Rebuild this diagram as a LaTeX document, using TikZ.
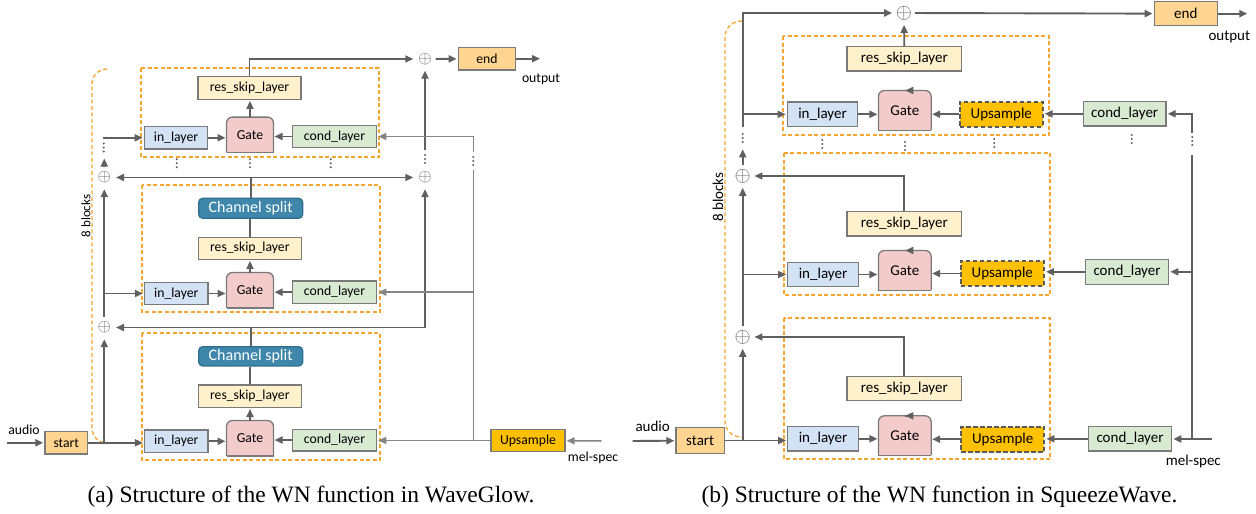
\documentclass[tikz,border=0pt]{standalone}
\usepackage{fontspec}
\setmainfont{Carlito}
\newfontfamily\capfont{Liberation Serif}
\usetikzlibrary{arrows.meta,backgrounds}
\definecolor{lc}{HTML}{606060}
\definecolor{mlc}{HTML}{858585}
\definecolor{bc}{HTML}{7A7A7A}
\definecolor{inc}{HTML}{D3E2F4}
\definecolor{gatec}{HTML}{F3CBCB}
\definecolor{condc}{HTML}{D8EAD2}
\definecolor{resc}{HTML}{FFF1CC}
\definecolor{stc}{HTML}{FFD591}
\definecolor{upc}{HTML}{FFC000}
\definecolor{csc}{HTML}{3F86AB}
\definecolor{csd}{HTML}{2F6E8E}
\definecolor{orc}{HTML}{F5A530}
\definecolor{upd}{HTML}{595959}
\begin{document}
\begin{tikzpicture}[x=1pt,y=-1pt,
  ln/.style={draw=lc, line width=1.9pt},
  mln/.style={draw=mlc, line width=1.5pt},
  arr/.style={ln, -{Triangle[length=8pt,width=7pt]}, shorten >=1pt},
  marr/.style={mln, -{Triangle[length=8pt,width=7pt]}, shorten >=1pt},
  sz/.style 2 args={minimum width=#1pt, minimum height=#2pt},
  box/.style={draw=bc, line width=1.3pt, inner sep=0pt, align=center},
  fa/.style={font=\fontsize{13.7}{15}\selectfont},
  fb/.style={font=\fontsize{15}{17}\selectfont},
  fcs/.style={font=\fontsize{16}{18}\selectfont},
  inl/.style={box, fill=inc},
  condl/.style={box, fill=condc},
  resl/.style={box, fill=resc},
  stl/.style={box, fill=stc},
  upl/.style={box, fill=upc},
  upbl/.style={box, fill=upc, draw=upd, line width=2pt, dash pattern=on 4.5pt off 2.5pt},
  csl/.style={box, fill=csc, draw=csd, rounded corners=4pt, text=white},
  gatebox/.style={inner sep=0pt},
  gateshape/.style={fill=gatec, draw=bc, line width=1.3pt},
  plus/.style={circle, inner sep=0pt, minimum size=21pt, text=lc},
  pa/.style={font=\fontsize{18}{18}\selectfont},
  pb/.style={font=\fontsize{19.5}{19.5}\selectfont},
  blk/.style={draw=orc, line width=1.3pt, dash pattern=on 4pt off 2.5pt},
  lab/.style={inner sep=0pt},
  vdts/.pic={\fill[lc] (0,-4) circle (1.1pt) (0,0) circle (1.1pt) (0,4) circle (1.1pt);}
]
\useasboundingbox (0,0) rectangle (1256,514);

% ================= (a) =================
\draw[blk] (141,68) rectangle (379,157);
\draw[blk] (142,185) rectangle (380,312);
\draw[blk] (142,333) rectangle (380,460);
\draw[blk, rounded corners=15pt] (107,69) -- (92,69) -- (92,443) -- (107,443);

\node[resl,fa,sz={103}{22.6}] (A3res) at (249.5,88) {res\_skip\_layer};
\node[gatebox,fa,sz={46.6}{35}] (A3gate) at (250,134.8) {Gate};
\node[inl,fa,sz={63.4}{22.3}] (A3in) at (176,137.8) {in\_layer};
\node[condl,fa,sz={84.4}{21.6}] (A3cond) at (334.5,136.5) {cond\_layer};

\node[csl,fcs,sz={104}{20}] (A2cs) at (250.7,208.3) {Channel split};
\node[resl,fa,sz={103}{22}] (A2res) at (249.8,248.3) {res\_skip\_layer};
\node[gatebox,fa,sz={46.6}{35}] (A2gate) at (250,290.2) {Gate};
\node[inl,fa,sz={63.4}{21.6}] (A2in) at (176.3,293.5) {in\_layer};
\node[condl,fa,sz={84.4}{22.3}] (A2cond) at (334.5,292.2) {cond\_layer};

\node[csl,fcs,sz={104}{19.3}] (A1cs) at (250.7,356.3) {Channel split};
\node[resl,fa,sz={103}{22.3}] (A1res) at (249.8,396.2) {res\_skip\_layer};
\node[gatebox,fa,sz={46.6}{35}] (A1gate) at (250,438.2) {Gate};
\node[inl,fa,sz={63.4}{22.7}] (A1in) at (176.3,441.3) {in\_layer};
\node[condl,fa,sz={84.4}{21.7}] (A1cond) at (334.5,440) {cond\_layer};

\node[stl,fa,sz={42.7}{22.3}] (Astart) at (66.3,442.8) {start};
\node[upl,fa,sz={74}{22.4}] (Aup) at (528,440.5) {Upsample};
\node[stl,fa,sz={57.4}{22.7}] (Aend) at (487,58.7) {end};

\node[plus,pa] (Aptop) at (425,59) {$\oplus$};
\node[plus,pa] (Apr2) at (425,177.5) {$\oplus$};
\node[plus,pa] (Apl2) at (104.3,177.5) {$\oplus$};
\node[plus,pa] (Apl1) at (104.3,327.5) {$\oplus$};

\node[lab,fa] (Aaudio) at (24,430) {audio};
\node[lab,fa] (Aoutput) at (541,79) {output};
\node[lab,fa] (Amelspec) at (593,458.3) {mel-spec};
\node[lab,font=\fontsize{13}{15}\selectfont,rotate=90] (Ablocks) at (86,216) {8 blocks};

\draw[arr] (A3gate.north) -- (A3gate.north |- A3res.south);
\draw[arr] (A2gate.north) -- (A2gate.north |- A2res.south);
\draw[arr] (A1gate.north) -- (A1gate.north |- A1res.south);
\draw[arr] (A3in.east) -- (A3in.east -| A3gate.west);
\draw[arr] (A2in.east) -- (A2in.east -| A2gate.west);
\draw[arr] (A1in.east) -- (A1in.east -| A1gate.west);
\draw[arr] (A3cond.west) -- (A3cond.west -| A3gate.east);
\draw[arr] (A2cond.west) -- (A2cond.west -| A2gate.east);
\draw[arr] (A1cond.west) -- (A1cond.west -| A1gate.east);
\draw[ln] (A2res.north) -- (A2res.north |- A2cs.south);
\draw[ln] (A1res.north) -- (A1res.north |- A1cs.south);
\draw[arr] (A2cs.north) |- (Apl2);
\draw[arr] (A2cs.north |- Apl2) -- (Apr2);
\draw[arr] (A1cs.north) |- (Apl1);
\draw[arr] (A1cs.north |- Apl1) -| (Apr2);
\coordinate (Ar3) at (425,150);
\draw[arr] (Ar3) -- (Aptop);
\draw[arr] (A3res.north) |- (Aptop);
\draw[arr] (Aptop) -- (Aend);
\coordinate (Aout) at (541,58.7);
\draw[arr] (Aend) -- (Aout);
\coordinate (Aaud) at (6.7,442.8);
\draw[arr] (Aaud) -- (Astart);
\draw[arr] (Astart.east) -- (Astart.east -| A1in.west);
\draw[arr] (Apl1 |- Astart.east) -- (Apl1);
\draw[arr] (Apl1) -- (Apl2);
\draw[arr] (Apl1 |- A2in.west) -- (A2in.west);
\coordinate (Al3) at (104.3,157.5);
\draw[arr] (Apl2) -- (Al3);
\coordinate (Al4) at (103,137.8);
\draw[arr] (Al4) -- (A3in.west);
\coordinate (Amel) at (601.7,441);
\draw[marr] (Amel) -- (Aup);
\draw[marr] (Aup.west) -- (Aup.west -| A1cond.east);
\coordinate (Aj) at (473.3,440.5);
\coordinate (Aj2) at (473.3,170);
\draw[mln] (Aj) -- (Aj2);
\draw[marr] (Aj |- A2cond.east) -- (A2cond.east);
\coordinate (Aj3) at (473.3,151.7);
\draw[marr] (Aj3) |- (A3cond.east);

\pic at (103.8,147.5) {vdts};
\pic at (425,159) {vdts};
\pic at (176.7,163.3) {vdts};
\pic at (250,163.3) {vdts};
\pic at (330.7,163.3) {vdts};
\pic at (473.3,161) {vdts};

\node[lab,font=\capfont\fontsize{23.5}{26}\selectfont] (capA) at (311,497) {(a) Structure of the WN function in WaveGlow.};

% ================= (b) =================
\draw[blk] (783,36) rectangle (1049,135);
\draw[blk] (784,153) rectangle (1050,295);
\draw[blk] (784,318) rectangle (1050,459);
\draw[blk, rounded corners=16pt] (742,21) -- (725,21) -- (725,437) -- (743,437);

\node[resl,fb,sz={114.7}{24.3}] (B3res) at (904.3,58.8) {res\_skip\_layer};
\node[gatebox,fb,sz={52.3}{39.3}] (B3gate) at (904.8,110.3) {Gate};
\node[inl,fb,sz={70.4}{24.7}] (B3in) at (822.5,114.3) {in\_layer};
\node[upbl,fb,sz={82.7}{25}] (B3up) at (1001.3,114.2) {Upsample};
\node[condl,fb,sz={82.7}{24.3}] (B3cond) at (1124.7,113.8) {cond\_layer};

\node[resl,fb,sz={114.7}{24.3}] (B2res) at (904.3,223.8) {res\_skip\_layer};
\node[gatebox,fb,sz={52.3}{39.3}] (B2gate) at (904.8,270.3) {Gate};
\node[inl,fb,sz={70.6}{24.4}] (B2in) at (823,274.5) {in\_layer};
\node[upbl,fb,sz={83.3}{25}] (B2up) at (1002.3,273.5) {Upsample};
\node[condl,fb,sz={83.4}{25}] (B2cond) at (1127,271.8) {cond\_layer};

\node[resl,fb,sz={114.7}{24}] (B1res) at (904.3,388.7) {res\_skip\_layer};
\node[gatebox,fb,sz={52.3}{39}] (B1gate) at (904.8,435.5) {Gate};
\node[inl,fb,sz={70.6}{24.3}] (B1in) at (823,438.8) {in\_layer};
\node[upbl,fb,sz={83.3}{25}] (B1up) at (1002.7,439.2) {Upsample};
\node[condl,fb,sz={83.4}{24.3}] (B1cond) at (1130,438.8) {cond\_layer};

\node[stl,fb,sz={48.3}{25.6}] (Bstart) at (700.2,440.5) {start};
\node[stl,fb,sz={63}{24}] (Bend) at (1185.8,13.7) {end};

\node[plus,pb,minimum size=20pt] (Bptop) at (904,13) {$\oplus$};
\node[plus,pb] (Bpl2) at (742.7,176) {$\oplus$};
\node[plus,pb] (Bpl1) at (742.7,337) {$\oplus$};

\node[lab,fb] (Baudio) at (652.7,426.7) {audio};
\node[lab,fb] (Boutput) at (1229.3,36.7) {output};
\node[lab,fb] (Bmelspec) at (1193.3,461) {mel-spec};
\node[lab,fb,rotate=90] (Bblocks) at (718,197) {8 blocks};

\foreach \g in {B3,B2,B1} {
  \draw[arr] (\g gate.north) -- (\g gate.north -| \g res.south);
  \draw[arr] (\g in.east) -- (\g in.east -| \g gate.west);
  \draw[arr] (\g up.west) -- (\g up.west -| \g gate.east);
  \draw[arr] (\g cond.west) -- (\g cond.west -| \g up.east);
}
\coordinate (Baud) at (632.7,441);
\draw[arr] (Baud) -- (Bstart);
\draw[arr] (Bstart.east) -- (Bstart.east -| B1in.west);
\draw[arr] (Bpl1 |- Bstart.east) -- (Bpl1);
\draw[arr] (Bpl1) -- (Bpl2);
\draw[arr] (Bpl1 |- B2in.west) -- (B2in.west);
\coordinate (Bl3) at (742.7,148.3);
\draw[arr] (Bpl2) -- (Bl3);
\coordinate (Bl4) at (742.7,126.7);
\draw[arr] (Bl4) |- (Bptop);
\draw[arr] (Bl4 |- B3in.west) -- (B3in.west);
\draw[arr] (B3res.north) -- (Bptop);
\draw[arr] (B2res.north) |- (Bpl2);
\draw[arr] (B1res.north) |- (Bpl1);
\draw[arr] (Bptop) -- (Bend);
\coordinate (Bout) at (1248.3,13.7);
\draw[arr] (Bend) -- (Bout);
\coordinate (Bmel) at (1211.7,439);
\coordinate (Bj) at (1192.3,439);
\draw[ln] (Bmel) -- (Bj);
\draw[arr] (Bj) -- (Bj -| B1cond.east);
\coordinate (Bj2) at (1192.3,155);
\draw[ln] (Bj) -- (Bj2);
\draw[arr] (Bj |- B2cond.east) -- (B2cond.east);
\coordinate (Bj3) at (1192.3,133);
\draw[arr] (Bj3) |- (B3cond.east);

\pic at (742.7,138) {vdts};
\pic at (822.3,144) {vdts};
\pic at (905,146) {vdts};
\pic at (994.3,143) {vdts};
\pic at (1131.7,139) {vdts};
\pic at (1192.3,141) {vdts};

\node[lab,font=\capfont\fontsize{23.5}{26}\selectfont] (capB) at (939.5,497) {(b) Structure of the WN function in SqueezeWave.};

% Gate shapes (rounded top corners)
\begin{pgfonlayer}{background}
\foreach \g in {A1gate,A2gate,A3gate,B1gate,B2gate,B3gate} {
  \filldraw[gateshape, rounded corners=6pt] (\g.south west) -- (\g.north west) -- (\g.north east) -- (\g.south east);
  \draw[draw=bc, line width=1.3pt] (\g.south west) -- (\g.south east);
}
\end{pgfonlayer}
\end{tikzpicture}
\end{document}
